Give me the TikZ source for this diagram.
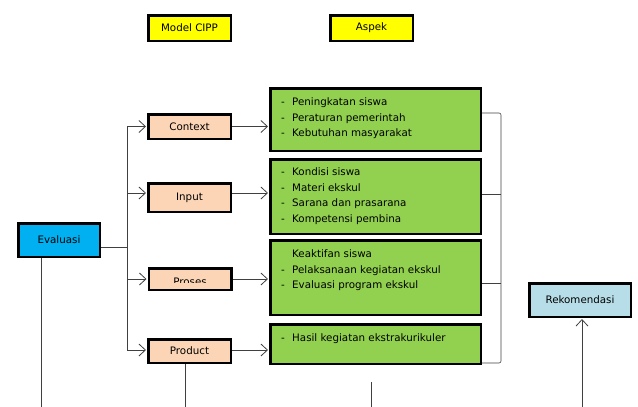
\documentclass[tikz,border=0pt]{standalone}
\usepackage{fontspec}
\setmainfont{DejaVu Sans}
\usetikzlibrary{arrows.meta}

\definecolor{yellowbox}{HTML}{FFFF00}
\definecolor{peach}{HTML}{FBD5B5}
\definecolor{greenbox}{HTML}{92D050}
\definecolor{evalblue}{HTML}{00B0F0}
\definecolor{rekblue}{HTML}{B7DEE8}
\definecolor{linegray}{HTML}{404040}

\newcommand{\aspeklist}[1]{\begin{tabular}[t]{@{}p{11pt}@{}l@{}}#1\end{tabular}}

\tikzset{
    boxfont/.style={font=\fontsize{10.3}{15.5}\selectfont},
    box/.style={draw=black, line width=2.5pt, inner sep=0pt, boxfont},
    header/.style={box, fill=yellowbox, minimum width=82.5pt, minimum height=25.5pt},
    phase/.style={box, fill=peach, minimum width=82.5pt},
    aspect/.style={box, fill=greenbox, minimum width=210.5pt},
    itemlist/.style={inner sep=0pt, anchor=base west, boxfont},
    conn/.style={draw=linegray, line width=0.8pt},
    arr/.style={conn, shorten >=1pt, -{Straight Barb[length=6.5pt,width=12pt]}},
    bracket/.style={draw=linegray, line width=0.6pt, rounded corners=2pt},
}

\begin{document}
\begin{tikzpicture}[x=1pt, y=-1pt]

    \useasboundingbox (0,0) rectangle (638,407);

    % headers
    \node[header] (model) at (189.5,28) {Model CIPP};
    \node[header] (aspek) at (371.5,28) {Aspek};

    % evaluasi
    \node[box, fill=evalblue, minimum width=81.5pt, minimum height=33.5pt]
        (evaluasi) at (59,240) {Evaluasi};

    % CIPP components
    \node[phase, minimum height=24.5pt] (context) at (189.5,126.5) {Context};
    \node[phase, minimum height=28.5pt] (input)   at (189.5,197.5) {Input};
    \node[phase, minimum height=21.5pt] (proses)  at (190,279) {};
    \node[phase, minimum height=23.5pt] (product) at (189.5,351) {Product};

    \begin{scope}
        \clip (proses.north west) rectangle (proses.east |- 0,282.5);
        \node[boxfont, inner sep=0pt, anchor=base] (prosestext) at (190,285) {Proses};
    \end{scope}

    % aspect boxes
    \node[aspect, minimum height=62.5pt] (aspek1) at (375.5,119.5) {};
    \node[aspect, minimum height=74.5pt] (aspek2) at (375.5,196.5) {};
    \node[aspect, minimum height=74.5pt] (aspek3) at (375.5,277.5) {};
    \node[aspect, minimum height=39.5pt] (aspek4) at (375.5,344) {};

    \node[itemlist] (list1) at (281,105.5) {\aspeklist{
        - & Peningkatan siswa\\
        - & Peraturan pemerintah\\
        - & Kebutuhan masyarakat}};
    \node[itemlist] (list2) at (281,175.5) {\aspeklist{
        - & Kondisi siswa\\
        - & Materi ekskul\\
        - & Sarana dan prasarana\\
        - & Kompetensi pembina}};
    \node[itemlist] (list3) at (281,257.5) {\aspeklist{
          & Keaktifan siswa\\
        - & Pelaksanaan kegiatan ekskul\\
        - & Evaluasi program ekskul}};
    \node[itemlist] (list4) at (281,341.5) {\aspeklist{
        - & Hasil kegiatan ekstrakurikuler}};

    % rekomendasi
    \node[box, fill=rekblue, minimum width=101.5pt, minimum height=33.5pt]
        (rekomendasi) at (580,300) {Rekomendasi};

    % trunk
    \coordinate (trunk) at (127,247);
    \draw[conn]
        ([yshift=-7pt]evaluasi.east) --
        (trunk);
    \draw[conn]
        (trunk |- 0,126) --
        (trunk |- 0,350);

    \coordinate (inputin) at ([yshift=4.5pt]input.west);
    \coordinate (productin) at ([yshift=1pt]product.west);

    \draw[arr] (trunk |- context.west) -- (context.west);
    \draw[arr] (trunk |- inputin) -- (inputin);
    \draw[arr] (trunk |- proses.west) -- (proses.west);
    \draw[arr] (trunk |- productin) -- (productin);

    % to aspects
    \draw[arr] (context.east) -- (context.east -| aspek1.west);
    \draw[arr] (inputin -| input.east) -- (inputin -| aspek2.west);
    \draw[arr] (proses.east) -- (proses.east -| aspek3.west);
    \draw[arr] (productin -| product.east) -- (productin -| aspek4.west);

    % bracket
    \coordinate (brackettop) at (501,113);
    \coordinate (bracketbot) at (501,363);
    \draw[bracket]
        (aspek1.east |- brackettop) --
        (brackettop) --
        (bracketbot) --
        (aspek4.east |- bracketbot);
    \draw[bracket] (aspek2.east |- 0,194) -- (brackettop |- 0,194);
    \draw[bracket] (aspek3.east |- 0,283) -- (brackettop |- 0,283);

    % bottom lines
    \coordinate (evalend) at (41,407);
    \draw[conn] (evalend |- evaluasi.south) -- (evalend);

    \coordinate (productend) at (185,407);
    \draw[conn] (productend |- product.south) -- (productend);

    \coordinate (aspektop) at (371,382);
    \coordinate (aspekend) at (371,407);
    \draw[conn] (aspektop) -- (aspekend);

    \coordinate (rekend) at (582,407);
    \draw[arr] (rekend) -- (rekend |- rekomendasi.south);

\end{tikzpicture}
\end{document}
